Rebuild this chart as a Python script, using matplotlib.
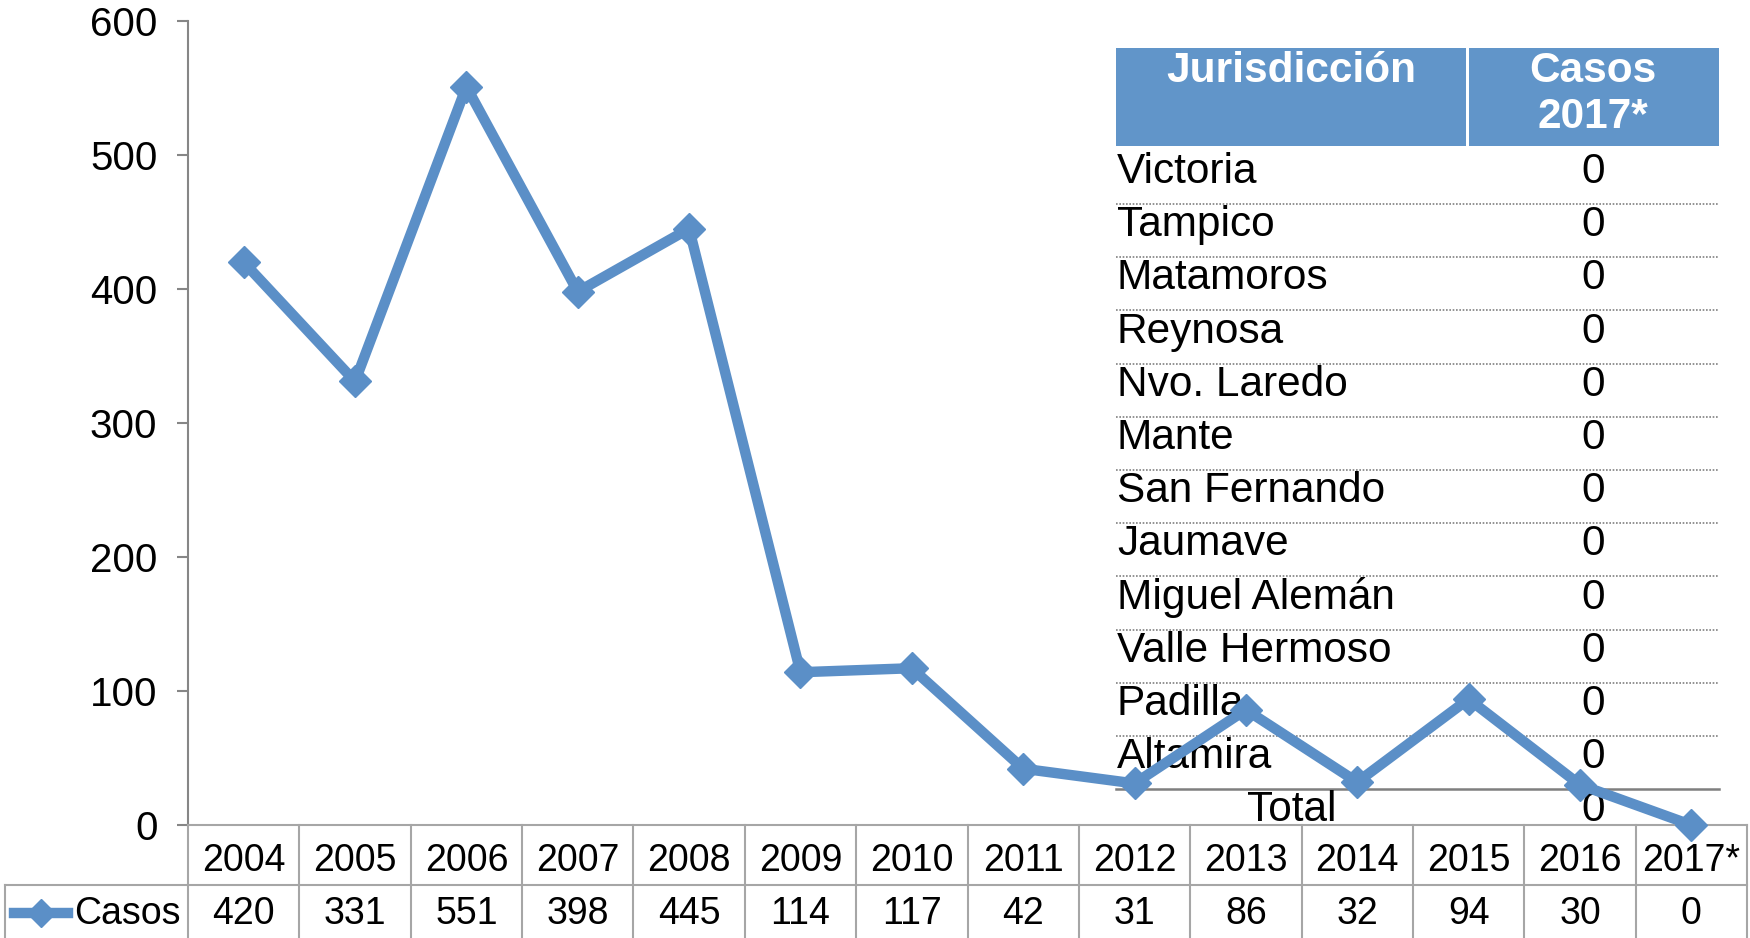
import matplotlib
matplotlib.use("Agg")
import matplotlib.pyplot as plt
from matplotlib.lines import Line2D
from matplotlib.patches import Rectangle

years = ["2004", "2005", "2006", "2007", "2008", "2009", "2010", "2011",
         "2012", "2013", "2014", "2015", "2016", "2017*"]
casos = [420, 331, 551, 398, 445, 114, 117, 42, 31, 86, 32, 94, 30, 0]
series_name = "Casos"

jurisdicciones = ["Victoria", "Tampico", "Matamoros", "Reynosa", "Nvo. Laredo",
                  "Mante", "San Fernando", "Jaumave", "Miguel Alemán",
                  "Valle Hermoso", "Padilla", "Altamira"]
casos_2017 = [0, 0, 0, 0, 0, 0, 0, 0, 0, 0, 0, 0]
total_2017 = 0
header_cols = ["Jurisdicción", "Casos\n2017*"]
yticks = [0, 100, 200, 300, 400, 500, 600]

plt.rcParams['font.family'] = ['Liberation Sans', 'DejaVu Sans']

W, H = 1750, 938
fig = plt.figure(figsize=(W / 100, H / 100), dpi=100)

def fx(px):
    return px / W

def fy(py):
    return 1 - py / H

LINE_C = "#5B8FC7"
GRID_C = "#A6A6A6"

ax_l, ax_r, ax_t, ax_b = 188, 1747, 21, 825
ax = fig.add_axes([fx(ax_l), fy(ax_b), fx(ax_r - ax_l), (ax_b - ax_t) / H])
ax.set_xlim(-0.5, len(years) - 0.5)
ax.set_ylim(0, 600)
ax.set_yticks(yticks)
ax.set_yticklabels([str(v) for v in yticks], fontsize=29)
ax.tick_params(axis='y', direction='out', length=8, width=1.5, color="#868686", pad=14)
ax.set_xticks([])
for s in ["top", "right"]:
    ax.spines[s].set_visible(False)
ax.spines["left"].set_color("#868686")
ax.spines["left"].set_linewidth(1.5)
ax.spines["bottom"].set_color(GRID_C)
ax.spines["bottom"].set_linewidth(1.5)

x = list(range(len(years)))
ax.plot(x, casos, color=LINE_C, linewidth=7.5, marker="D", markersize=16,
        markeredgecolor=LINE_C, zorder=5, clip_on=False)

# ---- data table below ----
tr = fig.transFigure
cat_w = (ax_r - ax_l) / len(years)
row1_top, row_mid, row_bot = 825, 885, 940
lines = []
lines.append(Line2D([fx(5), fx(ax_r)], [fy(row_mid), fy(row_mid)], transform=tr))
for i in range(len(years) + 1):
    xx = ax_l + i * cat_w
    lines.append(Line2D([fx(xx), fx(xx)], [fy(row1_top), fy(row_bot)], transform=tr))
lines.append(Line2D([fx(5), fx(5)], [fy(row_mid), fy(row_bot)], transform=tr))
for ln in lines:
    ln.set_color(GRID_C)
    ln.set_linewidth(1.5)
    fig.add_artist(ln)

for i, (yr, v) in enumerate(zip(years, casos)):
    cx = ax_l + (i + 0.5) * cat_w
    fig.text(fx(cx), fy(861), yr, ha="center", va="center", fontsize=27)
    fig.text(fx(cx), fy(914), str(v), ha="center", va="center", fontsize=27)

# legend key
fig.add_artist(Line2D([fx(14), fx(68)], [fy(913), fy(913)], transform=tr,
                      color=LINE_C, linewidth=7.5))
fig.add_artist(Line2D([fx(41)], [fy(913)], transform=tr, marker="D",
                      markersize=14, color=LINE_C, linestyle="none"))
fig.text(fx(74), fy(914), series_name, ha="left", va="center", fontsize=27)

# ---- overlay table ----
tx0, tdiv, tx1 = 1116, 1467, 1719
hy0, hy1 = 48, 146
ax.add_artist(Rectangle((fx(tx0), fy(hy1)), fx(tdiv - 1.5 - tx0), (hy1 - hy0) / H,
                        transform=tr, facecolor="#6195C9", edgecolor="none", zorder=1))
ax.add_artist(Rectangle((fx(tdiv + 1.5), fy(hy1)), fx(tx1 - tdiv - 1.5), (hy1 - hy0) / H,
                        transform=tr, facecolor="#6195C9", edgecolor="none", zorder=1))
c1 = (tx0 + tdiv) / 2
c2 = (tdiv + tx1) / 2
ax.text(fx(c1), fy(51), header_cols[0], transform=tr, ha="center", va="top",
        fontsize=30.5, fontweight="bold", color="white", zorder=2)
ax.text(fx(c2), fy(51), header_cols[1], transform=tr, ha="center", va="top",
        fontsize=30.5, fontweight="bold", color="white", zorder=2, linespacing=1.2)

row_h = 53.2
first_c = 172
for i, (name, v) in enumerate(zip(jurisdicciones, casos_2017)):
    cy = first_c + i * row_h
    ax.text(fx(tx0 + 1), fy(cy), name, transform=tr, ha="left", va="center",
            fontsize=30.5, zorder=2, clip_on=False)
    ax.text(fx(c2), fy(cy), str(v), transform=tr, ha="center", va="center",
            fontsize=30.5, zorder=2, clip_on=False)
    if i < len(jurisdicciones) - 1:
        ly = 204 + i * row_h
        ax.add_artist(Line2D([fx(tx0), fx(tx1)], [fy(ly), fy(ly)], transform=tr,
                             color="#808080", linewidth=1.2, linestyle=(0, (1, 1)), zorder=1))
sol_y = 789
ax.add_artist(Line2D([fx(tx0), fx(tx1)], [fy(sol_y), fy(sol_y)], transform=tr,
                     color="#7F7F7F", linewidth=1.8, zorder=1))
ax.text(fx(c1), fy(810), "Total", transform=tr, ha="center", va="center",
        fontsize=30.5, zorder=2)
ax.text(fx(c2), fy(810), str(total_2017), transform=tr, ha="center", va="center",
        fontsize=30.5, zorder=2)

fig.savefig("out.png", dpi=100)
